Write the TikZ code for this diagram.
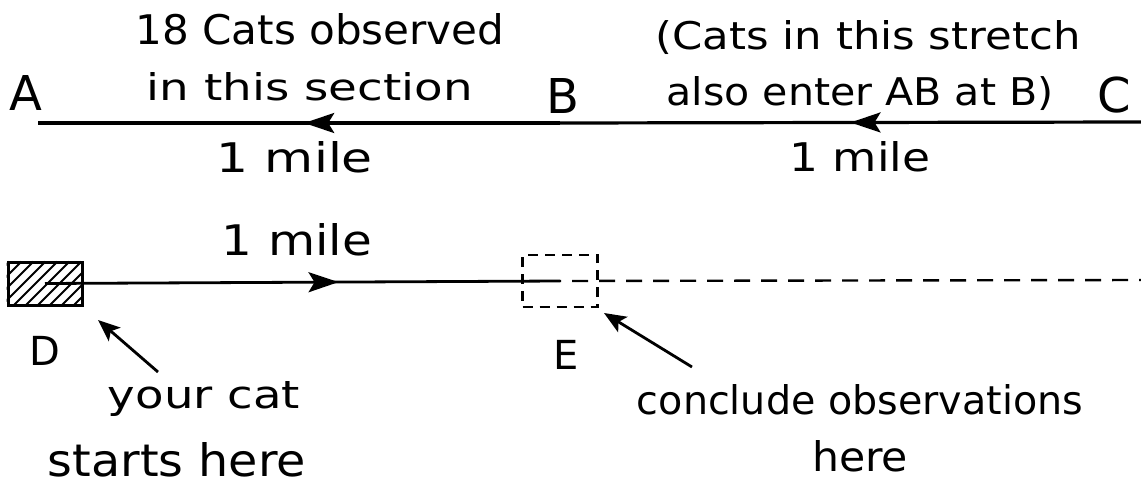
\documentclass[tikz,border=0pt]{standalone}
\usepackage{fontspec}
\setmainfont{DejaVu Sans}
\usetikzlibrary{arrows.meta,decorations.markings,calc}
% scale a handwritten-style label to a width and a height (in pt)
\newcommand\fitto[3]{\resizebox{#1pt}{#2pt}{#3}}
\begin{document}
\begin{tikzpicture}[x=1pt,y=-1pt,
  hand/.style={inner sep=0pt, anchor=base},
  letter/.style={inner sep=0pt, font=\fontsize{48}{52}\selectfont},
  road/.style={line width=3.2pt},
  midarrow/.style={postaction={decorate},
    decoration={markings, mark=at position #1 with {\arrow{Stealth[length=30pt,width=20pt,inset=6pt]}}}},
  pointer/.style={line width=2.8pt, -{Stealth[length=22pt,width=18pt,inset=5pt]}},
]
\useasboundingbox (0,0) rectangle (1141,487);

% ---- upper road A -- B -- C ----
\node[letter] (A) at (26,93) {A};
\node[letter] (B) at (563,96) {B};
\node[letter] (C) at (1114,95) {C};
\node[hand] (obs1) at (320,45) {\fitto{369}{31}{18 Cats observed}};
\node[hand] (obs2) at (310,100) {\fitto{326}{28}{in this section}};
\node[hand] (str1) at (868,50) {\fitto{425}{29}{(Cats in this stretch}};
\node[hand] (str2) at (860,106) {\fitto{387}{29}{also enter AB at B)}};

\coordinate (Aend) at (38,123);
\coordinate (Bpt) at (560,123);
\coordinate (Cend) at (1141,122);
\draw[road, midarrow=0.49] (Bpt) -- (Aend);
\draw[road, midarrow=0.5] (Cend) -- (Bpt);

\node[hand] (m1) at (295,172) {\fitto{156}{31}{1 mile}};
\node[hand] (m2) at (860,171) {\fitto{141}{30}{1 mile}};

% ---- lower road D -- E ----
\node[hand] (m3) at (297,255) {\fitto{150}{32}{1 mile}};
\node[draw, line width=3pt, minimum width=74pt, minimum height=43pt, inner sep=0pt] (Dbox) at (45,283.5) {};
\begin{scope}
  \clip (Dbox.south west) rectangle (Dbox.north east);
  \foreach \k in {0,...,9}
    \draw[line width=2pt] ($(Dbox.south west)+(\k*12-42,0)$) -- ++(45,-45);
\end{scope}
\node[draw, line width=2.4pt, dash pattern=on 10pt off 7pt, minimum width=75pt, minimum height=52pt, inner sep=0pt] (Ebox) at (560,281) {};
\coordinate (Fend) at (1141,280);
\draw[line width=2.8pt, midarrow=0.57] (Dbox.center) -- (Ebox.center);
\draw[line width=2.4pt, dash pattern=on 16pt off 11pt, dash phase=-12pt] (Ebox.center) -- (Fend);

\node[letter, font=\fontsize{40}{44}\selectfont] (D) at (45,351) {D};
\node[letter, font=\fontsize{40}{44}\selectfont] (E) at (566,355) {E};

% ---- notes with pointers ----
\node[hand] (cat1) at (204,408) {\fitto{192}{27}{your cat}};
\node[hand] (cat2) at (177,476) {\fitto{258}{34}{starts here}};
\node[hand] (end1) at (860,414) {\fitto{446}{30}{conclude observations}};
\node[hand] (end2) at (860,471) {\fitto{96}{31}{here}};

\coordinate (Dtail) at (158,372);
\coordinate (Dtip) at (98,320);
\coordinate (Etail) at (692,367);
\coordinate (Etip) at (604,313);
\draw[pointer] (Dtail) -- (Dtip);
\draw[pointer] (Etail) -- (Etip);
\end{tikzpicture}
\end{document}
